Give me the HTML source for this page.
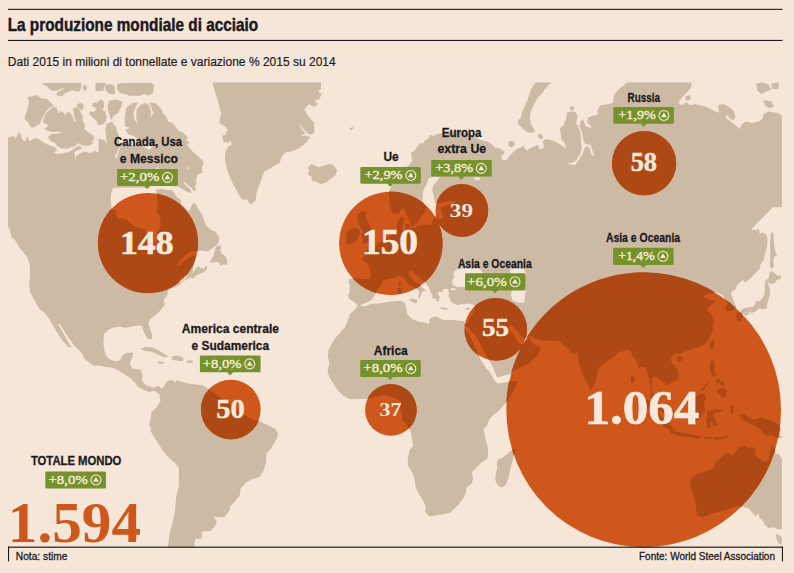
<!DOCTYPE html>
<html lang="it"><head><meta charset="utf-8"><title>La produzione mondiale di acciaio</title>
<style>html,body{margin:0;padding:0;background:#f5e6d8;}body{width:794px;height:573px;overflow:hidden;font-family:"Liberation Sans",sans-serif;}svg{display:block}.sb{font-family:"Liberation Sans",sans-serif;font-weight:bold;fill:#1c1a21;stroke:#1c1a21;stroke-width:.3px}.sr{font-family:"Liberation Sans",sans-serif;fill:#1c1a21}.nb{font-family:"Liberation Serif",serif;font-weight:bold;fill:#f6e9db}.nr{font-family:"Liberation Serif",serif;fill:#f6e9db;stroke:#f6e9db;stroke-width:.4px}</style></head><body>
<svg width="794" height="573" viewBox="0 0 794 573" style="isolation:isolate">
<rect width="794" height="573" fill="#f5e6d8"/>
<defs><clipPath id="mc"><rect x="8" y="82.6" width="773.9" height="464.4"/></clipPath>
<clipPath id="cc"><circle cx="148.0" cy="243.0" r="50.2"/><circle cx="390.8" cy="243.3" r="51.9"/><circle cx="461.8" cy="210.4" r="26.5"/><circle cx="644.1" cy="163.2" r="32.2"/><circle cx="495.7" cy="329.3" r="31.4"/><circle cx="230.9" cy="409.4" r="30.0"/><circle cx="390.8" cy="410.0" r="26.0"/><circle cx="643.65" cy="409.9" r="137.6"/></clipPath>
<path id="land" d="M95.5,82.9 95.5,91 103.4,91 104.1,87 106.3,83 106.3,82.9ZM83.2,90.6 86.7,90.6 86.7,85.4 83.2,85.4ZM111.9,84 105.5,84.7 104.7,87.7 106.2,91.3 109.7,94.1 114.8,94.1 114.8,86.9ZM117.3,89.8 120.9,93.4 125.1,94.1 129.3,95.8 140.5,95.8 143.3,94.1 148.9,95.5 153.2,92.6 153.9,85.5 151.7,82.9 122.3,82.9 117.3,84.1ZM62.9,95.8 64.3,93.4 68.5,92 72.6,90.2 76.1,91.6 79.7,91 81.4,87 81.1,82.9 42.4,82.9 42.4,83 43.2,85 46.7,86 48,87.8 51.6,90.6 55.8,91 58.7,90.2 61.5,88.5 64.4,88.8 61.4,90.3 57.1,92.2 56.4,94.7 59.3,96.6ZM80.3,102.9 77.3,104.3 76.9,106.6 78.8,108.7 81.7,110.2 83.9,107.7 83.2,104.3ZM107.5,107.2 108.9,113.5 111.1,120 111.2,120 114.1,115 117.6,113.6 121.1,107.3 122.5,101.5 115.4,99.4 109,100.8 108.2,103ZM54,105.9 54,105.8 46.8,98.7 41.9,98.7 36.6,94.9 27.7,97.3 28.9,102.3 27.8,107.9 25,116.5 24.7,119.1 28.5,122.7 30.9,127.6 33.5,127.6 39.9,124.1 42,118.5 44.8,113.6 49,108ZM100.5,125.5 101.8,124.6 105.7,122 105.9,120.9 106.2,120.5 106.1,118.9 106.4,116.3 105.8,114.7 105.5,112 102.8,110 104.1,105.8 103.4,100.8 100.5,99.4 97.6,102.2 92.7,102.9 92.2,105.9 94.8,107.3 96.1,110 93.5,111.9 89.9,111.2 89.2,113.5 92,117.1 96.2,120.6 97.6,124.1 98.5,124.5 98.5,124.8 99.1,124.8ZM48,137.2 50.1,140.8 55,142.9 57.8,146.4 61.4,148.5 68.4,148.5 71.2,146.9 75.5,145.7 77.5,143 79.5,144.3 83.7,145.5 89.4,145.8 93,143.6 91.7,140.2 94,140.2 93.7,135.8 89.4,132.9 83.9,128.8 85.3,126.1 83.2,121.8 82.5,116.3 79.7,109.9 76.1,107 73.1,108.5 73.8,115.6 75.9,120.5 74.7,122.2 73,117.6 71.3,114.1 68.1,111.2 68.1,111.2 65.6,115.3 63.6,112.7 60.2,110.8 58.7,113.8 57.6,110 55.9,107.1 51.9,107.8 45.9,113.4 43.1,119.8 43.8,122.7 47.4,124.8 49.2,125.4 44.4,128.8 44.4,128.9 48.1,131.1 53,132.1 58.6,131.5 62.3,132.4 58.6,133.6 50.9,134.3ZM353.5,128.2 352.6,126.7 349.8,128.6 350.7,130.4 350.7,130.4ZM246.9,199.2 250.7,204.8 250.7,204.8 255.5,200.4 256.5,194 258,187.7 260.5,182.6 262.3,176.3 264.8,171.3 269.8,168.8 273.6,166.3 280,162.4 281.3,157.3 285,152.4 292.6,151.1 298.9,148.5 305.3,143.5 310.5,137 310.5,136.9 305.2,135.6 299.7,136.7 305.4,133.3 305.4,133.2 301.5,129.3 299.4,122.9 303.8,129.5 308.9,134.7 314.2,133.3 314.2,123 307.8,115.4 304.1,109.2 309,104.3 314.1,106.8 318.1,104.1 318.1,104.1 314.3,100.4 319.2,99.2 321.8,93.9 318.1,91.4 321,89 321,81.2 212.1,81.2 212.1,81.2 215.2,92.8 217.7,100.4 219.7,108 221.5,114.2 219.7,118 219.7,123.2 224.1,125.8 227.8,129.4 225.3,133.2 226.2,134.5 222.2,135.7 223.3,141.4 228,143 230.5,140.3 231.6,144.6 227.9,147 225.8,150.9 224.8,158.5 226.6,167.4 229.1,175.1 232.9,183.9 238,192.8 241.8,199.7ZM319.1,167.2 315.4,166 311.5,163.9 307.5,167.4 309.3,170.7 307.5,174.3 311.4,176.4 311.9,181 316,181.5 320.4,184 325.5,182.7 335.7,175.1 337,169.9 333.1,164.7 328.7,164 324.1,165.5ZM227.7,261.9 225.5,256.2 222,254.1 220,250 221.4,247.2 219.9,245 216.2,246.4 214.8,250.7 213.4,255.6 211.3,259.7 209.1,262.7 209.2,262.8 213.6,262 217.7,262 220.4,263.4 219.6,265.9 219.7,266 223.3,264.2 226.2,264.9ZM120.8,145.5 116.6,158.2 116.8,158.8 114.8,156.8 119.7,147 119,135.8 117.6,133 116.2,127.4 111.9,121.7 106.9,123.2 105.4,128.8 106.1,138.7 107.5,144.2 104.3,139.9 98.5,138.4 98.5,138.5 98.5,152.4 94.9,150.7 89.9,153.3 84.8,151.2 79.7,153.3 76.3,155.9 75.1,161.8 75.2,156.1 74.2,152 78.2,149.9 81.9,148.5 81.9,148.5 80.3,146.1 76,146.9 72.5,149.7 69.7,151.7 65.6,152.4 61.4,153.8 55.9,153.8 54,152.6 57.5,149.8 54.5,146.9 46.1,144.1 37.7,138.5 33.4,138.5 30,141.2 28.7,139.9 27.3,136.3 27.2,136.3 25.1,141.2 22.5,139.9 21.1,135.1 18.1,132.1 18,132.1 17.3,135.8 15.4,138.4 14,135.9 6.8,137.8 6.9,138.7 6.9,225 10,230.1 11.3,236.5 15.1,240.3 18.9,246.6 23.9,252.9 27.7,258 29.7,265.5 30.2,275.6 29,284.5 30.2,292.1 34,299.8 39.1,308.6 44.2,312.5 49.2,318.8 52.8,325.3 57.3,332.7 62.4,340.3 68.5,347.2 71.6,347.4 71.6,347.4 66.7,339.4 62.4,331.8 58.4,324.8 59.9,323.9 64.2,330.9 68.7,338 73.8,345.1 78.4,349.2 82.2,354.2 84.7,359.3 93.6,365.7 100,365.5 105,366.7 111.4,367.5 117.7,370 124,374.3 130.3,378.1 135.3,383.1 137.9,387 143,389.5 149.4,392.1 154.4,390.8 159.4,394.5 160.6,400.7 156.8,407 151.8,412.1 150.5,418.5 149.2,424.8 151.6,430.8 149.9,429.8 149.8,429.9 156.2,440.2 162.5,450.2 170,459.1 175.1,462.9 178.8,467.8 178.8,486.7 176.3,495.5 175,510.6 172.5,523.2 170,530.7 168.7,540.8 167.5,551.1 167.5,551.1 195,551.1 194.2,543.4 195.5,539 201.8,538.5 201.8,531.4 210.5,530.9 214.4,527.1 216.9,521.9 213.3,515.9 216.7,517.1 224.4,517.1 229.5,510.7 230.7,505.6 234.5,501.9 239.6,495.6 240.8,488 247.1,481.8 252.1,479.3 259.7,476.7 263.5,470.4 266,462.8 266.5,452.8 268.5,451.5 272.3,446.4 276.1,440.1 278.1,433.6 274.8,428.5 268.4,425.4 259.5,421.4 252,419.6 245.6,415.8 238.1,410.8 229.2,403.2 219.1,396.8 208.9,389.2 205.1,386.7 201.3,384.9 193.7,384.2 187.4,383.4 181.1,381.6 175.8,380.3 175.3,383.2 172.2,379.8 167,381.6 164.4,385.5 162,389.1 160.9,388.1 160.9,388 160.9,388 160.7,387.9 160.7,387.9 157.7,385.4 154.4,387.9 150.7,386.7 145.7,384.9 141.9,380.5 142.7,375.4 140.6,369.7 131.8,368.2 130,364 131,359.4 132.3,358 133.1,352.7 133.1,352.7 126.5,352.7 122.7,355.3 120.1,360.3 115.2,361.6 109,359.1 105.2,354.1 103.4,344 103.9,333.9 107.7,330.2 112.7,327.7 119,326.4 125.3,327.7 131.7,326.4 139.2,325.2 142.2,326.4 143.7,331.4 147.2,338.3 151.5,339.6 151.5,339.6 152.3,335.1 150,328.8 148.3,322.5 150.7,318.8 157.1,313.7 160.9,309.9 164.7,304.8 163.5,299.7 167.3,295.8 167.2,295.6 165.5,296.9 166.9,295.5 168.3,289.9 179.4,285.1 185,280.2 190.8,277.4 192.6,278.9 195.5,276 198.9,273.9 203.1,272.5 206.7,269.7 207.4,266.7 205.8,265.9 203.7,268.7 200.4,268 198.2,265.9 196.7,267.4 194.6,270.2 192.2,274.3 193.4,267.5 194.8,261.9 196.3,255.1 192.2,255.8 187.4,258.5 182.4,262.7 179.1,265.8 176.5,265.4 181.8,258.5 187.4,253.5 191.9,251 197.2,250.7 197.4,252.1 198.9,250.6 204.5,250.9 208,251.6 211.5,248.8 215.7,245.9 218.6,242.4 219.3,237.4 215.7,231.7 211.5,230.3 206,225.5 203.9,220 203.5,218.7 202,214.5 199.3,210.3 196.7,206.1 194.5,202.3 194.5,202.3 191.8,205 188.7,211.7 185.2,208 181.3,204.2 180.5,199.3 177.8,197.7 175.3,195.6 173.7,191.9 171,189.8 166.8,190.3 161.5,188.7 157.3,189.8 155.4,189.2 157.1,194.8 157.8,199 157.5,207.3 156.4,211.5 160.3,217.1 160.6,225.5 157.1,232.5 156.4,243.6 154.3,242.2 153.6,233.2 145.9,233.2 145.3,229 138.3,228.3 134.1,226.2 128.5,221.3 122.9,218.5 117.3,218.5 115.9,210.8 111.8,209.4 110.6,201.8 111.1,193.4 113.1,187.8 151.2,187.8 142,184.8 135.2,177.8 153.1,175.1 157.4,166.5 159.9,171.5 170.4,186.2 177.8,186.2 179.8,187.8 183,189.3 186.6,191.4 190.4,193 191.6,192.4 190,189.1 186.3,186 183.2,182.9 184.1,182.1 187.7,185.1 191.3,187.8 193.4,190.4 195.1,191.5 195.2,191.5 195.8,189.2 194.7,187.1 196.3,184 196.3,181.8 195.7,181.4 197.7,174.4 202.3,172.6 201.7,168.3 202.5,165.4 203.3,163.6 203.2,163.4 203.6,162.5 202.5,160.3 201.5,159.7 201.5,159.7 195.1,153.4 194.1,152.9 193.6,152.5 193.6,152.5 193.6,152.4 189.5,148.3 187.2,144.9 188.1,143.6 189.6,142.9 189.6,142.8 186.1,140 188.1,137.2 185.2,135 182.4,132.2 178.3,130.8 176.2,127.4 172.7,123.1 168.5,121.8 165.7,116.2 162.3,112.7 161.6,109.2 155.9,103.6 149.4,102.1 149.4,102.2 150.4,105.2 152.2,110.1 153.6,113.5 151.8,115.5 150.5,118.2 151.1,112.1 149,105 145.4,102.9 140.4,105 136.4,110 136.4,117.7 137.4,124 134.3,119 133.4,113.5 135.7,107.3 137.9,102.2 137.8,102.2 132,102.9 126.4,107.8 124.7,116.3 125,126.2 130.2,128.1 125.6,129.5 125.6,129.5 127.8,133.9 133.4,136 141.8,141.6 152.8,146 149.5,150.2 141.9,145.5ZM188.6,169.9 186.9,168.2 188.3,165.9 188.6,166ZM184.9,275.9 187.7,275.2 185.6,278.7 181.4,282.2 177.9,282.2 180.7,278ZM145.5,351 151.9,351.7 158.2,354.8 164.5,357.3 168.6,356.8 168.6,356.6 164.6,354 158.3,350.2 151.9,347.6 145.5,346.9 140.3,349 140.3,349.1ZM172,359.8 175.9,360.6 182.4,361.4 183.7,357.8 177.2,355.2 172,356.5ZM187.2,363.1 192.6,363.1 192.6,360.5 187.2,360.5ZM158.1,363.6 163.4,363.9 163.4,361.8 158.1,361.6ZM686.3,101 690.9,99.1 689.8,95 685,96.4ZM535.5,131.2 535.5,131.2 533.6,128.4 531,124 529.8,117.9 530.5,112.7 532.7,107.4 538,96.9 542.4,93.3 544.2,89.8 547.7,86.3 552.2,81.7 552.2,81.6 536.1,81.6 530.7,89.6 528.9,95.8 527.2,101.1 524.5,106.4 521.9,112.6 521,117.8 517.8,120.5 518.4,124.2 521,126.8 523.7,129.5 527.3,132.2 531.7,132.7ZM573.3,110.5 574.6,107.8 572,105.9 569.5,107.3 570.4,110.1ZM543.4,137.3 540.6,133.6 537.7,134.6 538.7,138 541.5,139.3ZM510.5,140.7 508.3,142.5 508.3,145.3 510.2,147.2 513.3,146.8 514.8,144.4 513.9,141.6ZM410.3,228.2 409.4,223.2 404.9,224.1 406.1,229.6ZM371.3,228 369.4,224.1 367,220.2 365.5,216.3 366.6,212 363,211 357.3,213.9 357.3,218.7 358.9,223.4 360.5,228.2 363.6,232.1 361.2,236 363.6,239.1 362.8,244 362.9,244 367.7,242.4 372.5,240.8 374.9,237.6 373.3,232.8ZM347.1,237.5 345.5,240.7 347.2,244.8 352.1,243.2 356.8,240 359.2,236 360,231.2 356.8,228 351.9,228.8 346.4,232.7 345.5,235.2ZM400.5,280.8 398.8,281.4 398.8,284.6 399.9,286.3 400,286.3 401.1,284.6 400.6,280.8ZM397.7,288.2 398.3,293.6 400.5,294.1 401.8,291.4 401.1,287.6ZM758.5,121.6 752.2,122.9 745.9,121.6 742,124.2 739.5,129.1 735.9,125.5 730.8,121.7 725.8,117.9 727,114.5 729.3,118.1 732.8,120.7 735.9,116.7 733.4,110.3 728.3,106.5 723.1,103.9 717.9,105.2 719.1,112.7 715.6,111.5 705.4,106.4 695.3,103.9 690.2,105.2 686.4,102.6 681.4,105.1 678.3,102.8 682.7,96.6 687.8,91.5 691.6,86.4 691.6,81.1 628.1,81.1 624.3,85 617.9,90 614.1,95.1 612.9,102.7 609.2,103.9 600.2,105.2 597.6,110.3 597.7,114.3 596.1,115.1 591.6,116 588,117.8 587.1,122.4 589.8,125.1 592.2,128.2 590,127.5 586.5,126.6 584.8,124 583,118.9 582.9,118.9 580.4,121.7 579.5,126.2 582.2,132.9 583.1,139.7 585.4,144 590.2,144.5 591.9,148.8 594.1,156 591.8,155.4 590.1,149.6 587.3,145.4 587.3,145.4 584.5,148.4 582.7,153.7 579.2,159.6 574.9,164.9 569.2,164.2 567.4,162.2 571.4,163.1 575.9,160.4 580.4,154.1 581.6,147.9 580.9,140 580.4,132.9 578.1,125.8 576,123.2 577.7,117 575.9,112.5 571.4,111.2 566.9,112.5 566,119.6 563.4,124.9 559.8,128.5 560.7,132.9 561.6,140 565.1,143.6 565.9,148.4 562.7,146 558.3,143.4 552.9,140.7 545.8,138.9 543,140.8 543.9,147.8 539.7,149.5 538,145.1 530.8,147.8 527.3,150.4 524.8,148.7 523,145 522.9,145 521.1,147.8 517.6,148.6 514,151.3 509.6,155.7 507,160.1 502.7,160.1 501,155.9 503.6,154.2 504.6,151.4 500,148.6 495.6,147.8 487.7,141.6 480.1,139.9 470.1,133.9 455,130.8 442.4,133.3 436.8,134 433.4,136.1 429.8,134.7 428.4,138.3 424.9,140.4 422.8,143.8 420.1,143.1 417.2,146.7 414.4,150.8 410.9,153 412.3,160.7 409.5,164.8 403.9,168.9 397.9,177.9 391.9,185.9 388.7,192 389.2,201.4 390.3,207.7 392.7,213.3 397.6,214.1 401.6,209.4 403.8,207.2 405.2,211.7 407.6,217.2 410,221.9 411.5,226.9 412.8,228.1 408.5,230.3 403.9,231.4 401.6,229.6 403.7,223.4 404,217.8 401.4,216.9 397.4,220.2 397.1,225 397.4,231.1 392.7,232.7 388.8,236.6 384.1,239.8 380.2,242.1 377,244.5 374.7,247.6 370.8,248.4 367.6,250 367.2,254 363.7,257.1 362,259 363.7,261.5 366.8,262.3 369.1,267 370.7,272.4 370.2,279 361.4,279 355.1,278.2 349.5,279 348.4,282.6 350.3,285 349.5,289.7 349.5,292.8 347.9,296 349.5,299.2 353.5,301.6 356.6,303.9 357.7,305.4 354.1,310.3 350.3,314.1 347.7,320.5 345.2,326.8 340.1,333.1 335.1,338.1 331.3,344.5 328.7,349.6 327.9,356 329.5,363.5 327.4,371.1 330,378.8 333.8,383.9 337.6,390.2 342.7,395.3 349.1,399.1 365.6,399.1 374.5,397.1 380.8,395.3 388.3,396.1 395.9,397.9 400.9,401.6 400.4,409.1 402.1,416.7 401.9,419 408.2,426.7 410.7,431.7 412,439.3 413.3,445.5 409.5,450.6 407.7,459.5 408.2,465.9 412,472.2 414.5,478.5 415.8,487.4 419.6,495 423.4,501.3 425.9,507.6 424.6,511.4 429.8,516.6 436.2,515.3 443.8,514.1 450.2,512.8 454,509 459.1,503.9 462.9,498.8 465.5,493.7 466.7,487.4 471.8,483.6 473.1,478.5 471.8,472.2 481.9,462.1 487,459.6 488.3,453.2 487.5,445.5 485.7,440.5 484.4,432.9 483.2,429.2 487,425.4 489.5,419.1 494.5,414 499.6,410.2 504.7,403.9 506.8,402.1 510.8,395.8 513.9,390.3 516.3,384.8 517.3,381 510.6,381.1 503.6,382.7 497.3,383.5 493.8,379.6 490.2,373.1 490.3,373.2 490.1,373 489.4,371.7 488.3,370.8 486.4,368.5 483.3,363.8 480.1,359.1 479.3,356 477,351.3 473.8,345 471.5,338.7 468.4,334 464.4,329.3 464.7,326.4 469.4,327.4 471,331.1 474.2,333.7 477.3,338.4 480.4,343.9 483,349.4 485.9,354.1 488.3,359.1 491.1,363.8 493.5,368.5 495.8,374.5 497.6,377.4 503.6,375.8 509.8,374.2 510.8,374 510.8,373.8 512.3,371.5 517.8,368.4 524,366.1 528.8,363.7 532.7,359.7 536.7,355.8 540.6,350.2 539,346.2 534.3,344.6 533.9,344.2 533.5,344.2 533.4,343.7 530.4,340.7 531.7,337.5 531.6,337.4 528.8,337.4 525.7,341.5 522.5,344.2 519.4,343.4 517,340.3 514.7,336.3 511.5,332.4 509.2,329.3 508.4,326.9 510.8,324.6 513.9,326.9 517,330.8 519.4,333.2 521.8,337.1 524.9,338.7 529.5,336.3 530.4,335.7 535,338.8 542.9,340.4 552.4,340.4 559.4,341.2 559.9,341.7 564,345.8 569,348.8 571,352.9 575.3,354 577.1,351.2 578.1,358.9 580.1,367 583.2,375.1 587.2,383.2 590.3,390.5 590.4,390.5 593.5,385.3 596.6,379.2 597.6,371.1 599.6,367.1 603.6,364 608.7,360 613.8,357 617.8,352.9 622.8,350.9 627.8,349.9 630.8,350.9 631.8,354.9 634.8,359 637.8,363 638.5,368.2 638.5,368.2 641.1,367.1 644,366.7 647,370.1 648.6,377.1 650,385.2 651,390.3 650,396.7 654.1,402.9 658.2,409 662.4,413.1 664.6,410.9 661.5,406.7 657.4,400.7 653.4,393.6 651.4,388.6 652.3,377.2 655.2,376.2 659.2,379.2 667.3,385.4 670.5,383.3 673.5,381.3 677.6,379.2 678.6,374 677.6,369.9 674.6,365.9 671.5,361.8 670.5,358.9 673.5,354.9 676.5,353 679.5,354.6 681.6,352.9 686.6,350.9 691.7,348.9 696.3,348.1 700,346.9 703.9,344.5 707.9,340.6 710.3,335.8 711.8,332.7 713.4,328.7 712.6,324.8 714.2,320.8 712.6,316.9 711,312.9 707.9,311.3 707.5,309.1 709.4,306.8 711.8,304.5 715.1,301.2 715,301.1 711,300.3 707.8,298.7 704.7,297.9 703.3,295.8 706.2,294.3 709.3,293.5 711.7,294.3 714.1,291.9 717.9,292.7 721,294.3 723.4,296.6 725.7,300.5 728,303.3 726.5,305.8 724.9,309.9 727.4,311.3 731.4,310.8 734.6,309.2 736.2,306.7 734.6,303.5 732.3,297.3 732.3,297.3 730.7,292.5 735.4,289.4 737,285.5 742.3,280.1 745.5,282.4 749.5,279.2 759.7,269 760.5,264.2 763.7,260.3 764.5,255.6 766.8,247.7 767.6,241.4 766.8,235 762.7,232.6 759.7,234.1 758.9,228.7 758.9,228.6 755.6,230.3 751.2,229.5 751.3,229.3 772.7,207.2 782.6,207.2 782.6,140 782,115.3 776.3,112.8 768.7,111.5 763.5,114.1 762.2,119.1ZM433.4,185.1 432,190 433.6,195 434.7,200.9 436,203.5 440.9,202.5 447.2,201.5 452.5,200.9 455.6,202.2 453.5,204.3 449.3,204.7 445.1,205.8 441.5,207.4 440.4,210.4 442.5,213.5 443,216.6 440.9,219.8 438.3,219 436.8,215.8 434.5,216 433.7,219 432.1,221.8 430.5,225 424.2,224.4 418,226.3 414,228 411.7,226.9 415.6,224.2 418,221.8 420.3,217.1 424.2,213.2 425.8,207.7 424.2,203.8 422.7,201.4 422.7,197 422.9,191.4 425,187.2 427.1,183 428.5,178.2 434.8,176.8 439.7,177.5 436.9,181.6ZM450.9,290.1 450.4,288.3 455.1,288.3 455.7,289.9ZM372.4,299.1 374.8,295.2 377.1,290.5 381.8,283.4 383.4,279.9 388.1,279.2 392.8,278.4 397.5,276 397.9,275.7 403.6,276.8 404.7,279.4 406.8,282 409.9,284.6 412.5,286.7 415.1,287.7 416.2,288.8 418.3,290.4 419.3,292.5 418.8,294.6 418.5,296.6 418.1,299.6 419.6,297.9 421,295.6 421.4,293.3 422.7,291.4 424,290.6 425.8,291.6 425.1,289.8 423,288.1 421.4,286.7 420.4,285.7 420.4,283.9 416.2,282.5 413.6,280.9 410.9,277.3 408.6,274.7 408.8,271 412.5,270.5 415.1,273.6 418.3,276.2 421.4,279.4 424,281.5 426.6,284.6 429.3,288.3 430.3,291.5 431.9,294.6 432.9,296.2 431.4,297.2 432.9,298.8 434.5,297.7 436.3,300.4 436.8,301.4 439.4,300.9 438.4,298.8 440.5,297.7 438.9,295.7 437.9,292.5 439.9,291.5 442,292.5 443.6,289.4 445.7,288.8 448.3,289.1 448.3,290.4 449.4,293.6 448.3,296.2 449.9,298.3 450.9,301.4 452.5,303 455.7,304.6 458.8,305.1 461.4,303.5 463.5,304.6 466.6,303.5 470.3,304 472.9,304.6 475,305.6 474.6,306.5 473.8,312 470.7,316.7 468.4,321.4 466,323.8 463.6,322.7 465.6,320.8 461.4,321.3 456.2,320.3 450.9,319.7 446.8,320.3 442.6,319.7 439.4,318.2 436.3,316.6 433.1,317.1 430,318.7 428.9,324.3 425.1,322.5 418.7,321.8 412.4,319.2 407.3,314.2 406.1,307.8 404.8,302.8 401,300.8 390.9,301.5 380.8,303.3 370.6,304.1 364.3,306.6 360.2,305.8 361.4,304.6 365.3,303 369.3,301.5ZM478.1,180.5 474.6,179.6 473.2,177.5 478.8,177.2 480.8,179.1ZM465.3,268.3 471.6,268.7 479.5,268.3 481.8,271.4 485,277.7 486.5,283.2 483.4,286.3 477.1,287.9 469.3,287.1 465.3,287.1 456.7,287.1 452.8,284.8 452,280.8 454.3,276.9 453.6,273.8 455.1,270.6 457.5,269.1ZM524.2,280.8 525.8,290.3 525,296.5 524.2,302.8 518,302.5 512.5,300.5 510.9,295 511.7,291 514.8,284 514,277.7 510.9,273.8 509.3,269.8 518,268.3 524.2,269.1 526.1,273.8ZM412.5,298.4 409.2,299.2 409.2,299.2 410.9,301.4 413.5,302.5 416.2,303.6 417.1,301.9 417.6,300.3ZM443.6,307.4 440.4,307.6 440.4,308.8 443.1,309.4 447.3,309.7 447.9,308.5 447.9,308.5ZM464.9,309.2 464.9,309.3 466.6,310.4 469.9,308.8 470.4,307.1 470.4,307 467.7,308.1ZM682.9,359.9 681.6,356.7 676.7,357.3 676.5,360.6 679.5,362.1ZM633.4,374.9 631.1,376 630.7,381.2 632.5,383.8 632.6,383.8 634.5,380.1 633.4,374.9ZM647.3,399.6 643,397.5 642.9,397.6 644,402.8 648.1,409 654.1,416 660.2,423.1 666.3,428.2 671.4,430.9 674.7,430.2 674.7,430.2 671.6,426 665.5,420.9 659.4,413.8ZM676.5,435.3 684.6,437 692.7,437.8 701,438.4 701,436.1 694.8,435 686.7,433.4 678.6,432 670.3,431 670.3,431 670.3,433.3ZM514.8,449.2 510.8,450.5 507,454.3 502,458.1 498.1,459.4 496.8,463.3 497.3,468.3 495.5,474.7 495.5,481.1 498.1,485.7 502,487.5 505.9,484.9 508.5,477.3 510.3,469.7 512.3,462.1 514.3,454.5 514.8,449.2ZM779,81.9 778.9,81.8 771,83.7 772.4,89 778.4,89ZM762.4,81.9 755.9,83.7 757.2,90.2 761.1,94.1 771.4,88.9 771.4,88.9 768.8,84.9ZM763.5,100.1 763.4,100.1 764.8,105.4 768.7,108 773.9,106.7 774,106.7 771.3,101.4ZM771.2,232.6 770,241.4 770.4,250.8 770,258.7 770,267.4 772.2,268.3 773.9,266.6 773.1,260.3 774.6,256.5 777.1,255.6 774.7,249.2 773.9,241.4 773.4,232.6ZM756.4,300.2 755.5,303.5 753.2,306.6 749.4,307.3 744.6,308.1 741.4,309.7 740.6,313 740,312.5 736.7,313.6 735.4,315.3 736.7,317.7 737.5,321.3 740,321.8 741.7,318.5 742.5,314.5 740.8,313.2 743.1,313.9 746.3,312.3 749.4,311.6 752.3,314 752.3,314 752.7,312.3 755.7,311.5 758.9,308.4 762.7,309.2 766.8,308.4 767.6,302 769.6,295.7 770,289.4 768.4,283.8 767.2,283.1 768.2,282.4 771.4,284 774.6,283.2 777,280 780.9,278.4 781.8,275.5 781.7,275.5 778.5,275.8 774.6,273.5 772.2,271.1 769.7,271.9 768.9,277.5 766.6,279.8 764.1,283.1 764.1,283.1 765.3,283.7 764.6,285.5 764.9,289.4 764.2,294.9 761.8,298.8 758.8,301.8 756.4,300.2ZM748.7,312 743.7,313.7 743.7,313.7 745.4,316 749.6,313.8ZM713.4,347.6 714.7,343.6 713.4,340.3 710.8,341.1 710,343.6 709.7,347.6 711.3,350.1 711.4,350.1ZM714,377.7 714,377.7 716.2,375.5 714.2,372.4 714.8,366.3 713.5,360.1 713.5,360.1 710.4,361.2 709.8,367.3 710.8,373.5ZM724.3,385.7 723.2,380.3 723.2,380.3 719.9,381.4 719.2,378.3 715.8,379.4 716.9,383.7 720.2,382.7 721,386.4ZM701.9,391.7 708.5,383.3 707.3,382.3 700.6,390.7ZM723.1,387.4 717.9,389.5 716.9,393.1 720,394.8 723.1,397.9 726.3,395.8 727.3,390.6ZM694.7,398.6 691.6,400.7 689.6,405.8 688.5,411.9 689.6,418 692.7,421.2 697.9,420.1 702,415 705,409.9 704,402.8 706.1,397.7 704,393.5 698.7,394.5ZM731.1,409.9 730.6,413.4 733,414.1 733.8,409.9 733,405 730,405.7ZM721.2,412 722.3,409.8 722.3,409.7 715,409.7 707.8,410.8 706.8,414.9 706.4,421 707.2,428.3 710.7,428.3 710.7,428.2 710.1,423.1 711.9,421.3 713.9,426.3 717.2,425.2 715.1,418.9 712.2,415 715.1,412.7ZM781,429.1 778.9,425 771.8,420.9 765.7,418.8 759.5,417.8 755.5,419.8 751.5,418.8 747.5,416.8 744.4,413.8 739.1,414.8 739.1,414.9 742.3,420.1 746.3,421.2 750.4,424.2 755.4,426.2 759.5,429.2 763.5,433.3 767.6,436.4 771.7,435.3 775.7,437.4 783,438.4 783.1,438.3 780,435.1ZM720.1,437.1 713.9,437.5 713.9,439.4 721.1,439.4 729,436.9 729,436.9 728.3,435.4ZM703.7,438.6 711.1,439 711.1,437.1 703.7,436.7ZM737.3,506 743.3,507 747.4,508 750.4,510 753.4,514 755.5,516.2 758.5,513.2 759.4,518.1 762.5,520.1 764.5,524.1 768.6,528.3 773.7,527.2 777.8,529.3 783,529.3 783,460.2 778.9,454 775.9,454 774.9,449.1 771.7,444.8 771.6,444.9 770,452.1 768.5,460.2 764.6,462.1 759.7,459.1 754.7,455.1 755.7,451.1 753.6,446.9 748.5,447.9 744.4,445.9 739.2,447 736.2,451 732.2,455 728.2,453 725.1,454 721,458.1 715.9,461.2 713.9,467.2 708.9,470.2 696.7,474.3 691.6,477.4 690.6,482.5 690.2,487.6 692.6,491.7 693.6,496.7 695.6,503.8 696.2,509.9 697.1,515.4 701.8,517.5 707,516.1 713,513.1 719.1,512 725.2,510 731.3,508ZM778.9,535.1 775.7,534 775.6,534 776.6,539.3 778.7,543.4 782.9,545.5 783,545.5 783,538.2Z" fill-rule="evenodd"/></defs>
<g clip-path="url(#mc)"><use href="#land" fill="#ccbaa5"/></g>
<g fill="#cf571b"><circle cx="148.0" cy="243.0" r="49.95"/><circle cx="390.8" cy="243.3" r="51.65"/><circle cx="461.8" cy="210.4" r="26.25"/><circle cx="644.1" cy="163.2" r="31.95"/><circle cx="495.7" cy="329.3" r="31.15"/><circle cx="230.9" cy="409.4" r="29.75"/><circle cx="390.8" cy="410.0" r="25.75"/><circle cx="643.65" cy="409.9" r="137.35"/></g>
<g clip-path="url(#cc)"><g clip-path="url(#mc)"><use href="#land" fill="#ae4814"/></g></g>
<rect x="8" y="8.8" width="774.5" height="1.1" fill="#1c1a21"/>
<rect x="8" y="39.9" width="774.5" height="1.1" fill="#1c1a21"/>
<text class="sb" x="7.73" y="30.78" font-size="18.19" textLength="250.42" lengthAdjust="spacingAndGlyphs" style="stroke-width:.45px">La produzione mondiale di acciaio</text>
<text class="sr" x="7.84" y="66.47" font-size="13.11" textLength="327.87" lengthAdjust="spacingAndGlyphs" style="stroke:#1c1a21;stroke-width:.2px">Dati 2015 in milioni di tonnellate e variazione % 2015 su 2014</text>
<rect x="8" y="546.6" width="775" height="1.2" fill="#1c1a21"/>
<rect x="8" y="546.6" width="1.1" height="14.8" fill="#1c1a21"/>
<rect x="781.9" y="546.6" width="1.1" height="14.8" fill="#1c1a21"/>
<text class="sr" x="15.78" y="560.2" font-size="11.0" textLength="51.7" lengthAdjust="spacingAndGlyphs" style="stroke:#1c1a21;stroke-width:.3px">Nota: stime</text>
<text class="sr" x="639.0" y="559.9" font-size="11.0" textLength="136.0" lengthAdjust="spacingAndGlyphs" style="stroke:#1c1a21;stroke-width:.3px">Fonte: World Steel Association</text>
<text class="sb" x="113.95" y="146.4" font-size="13.3" textLength="68.27" lengthAdjust="spacingAndGlyphs">Canada, Usa</text>
<text class="sb" x="119.81" y="162.6" font-size="13.3" textLength="58.08" lengthAdjust="spacingAndGlyphs">e Messico</text>
<text class="sb" x="383.38" y="161.2" font-size="13.3" textLength="15.28" lengthAdjust="spacingAndGlyphs">Ue</text>
<text class="sb" x="441.79" y="136.6" font-size="13.3" textLength="39.75" lengthAdjust="spacingAndGlyphs">Europa</text>
<text class="sb" x="437.4" y="153.2" font-size="13.3" textLength="48.85" lengthAdjust="spacingAndGlyphs">extra Ue</text>
<text class="sb" x="627.51" y="101.9" font-size="13.3" textLength="32.39" lengthAdjust="spacingAndGlyphs">Russia</text>
<text class="sb" x="457.89" y="267.7" font-size="13.3" textLength="73.86" lengthAdjust="spacingAndGlyphs">Asia e Oceania</text>
<text class="sb" x="605.89" y="241.7" font-size="13.3" textLength="74.26" lengthAdjust="spacingAndGlyphs">Asia e Oceania</text>
<text class="sb" x="181.84" y="333.1" font-size="13.3" textLength="97.12" lengthAdjust="spacingAndGlyphs">America centrale</text>
<text class="sb" x="191.62" y="349.5" font-size="13.3" textLength="77.5" lengthAdjust="spacingAndGlyphs">e Sudamerica</text>
<text class="sb" x="373.84" y="354.8" font-size="13.3" textLength="33.89" lengthAdjust="spacingAndGlyphs">Africa</text>
<text class="sb" x="30.89" y="464.7" font-size="13.3" textLength="90.44" lengthAdjust="spacingAndGlyphs">TOTALE MONDO</text>
<rect x="117.1" y="168.9" width="60.75" height="17.00" rx="1.3" fill="#76922b"/>
<path d="M143.9,185.6L150.5,185.6L147.2,189.1Z" fill="#76922b"/>
<text class="nr" x="119.96" y="181.25" font-size="13.3" textLength="39.4" lengthAdjust="spacingAndGlyphs">+2,0%</text>
<circle cx="167.50" cy="177.35" r="5" fill="none" stroke="#f6e9db" stroke-width="1.1"/>
<path d="M164.60,179.15L170.40,179.15L167.50,174.45Z" fill="#f6e9db"/>
<rect x="360.3" y="167.0" width="60.50" height="16.70" rx="1.3" fill="#76922b"/>
<path d="M387.0,183.4L393.6,183.4L390.3,186.7Z" fill="#76922b"/>
<text class="nr" x="364.48" y="179.35" font-size="13.3" textLength="38.15" lengthAdjust="spacingAndGlyphs">+2,9%</text>
<circle cx="410.80" cy="175.45" r="5" fill="none" stroke="#f6e9db" stroke-width="1.1"/>
<path d="M407.90,177.25L413.70,177.25L410.80,172.55Z" fill="#f6e9db"/>
<rect x="431.2" y="159.9" width="60.60" height="16.60" rx="1.3" fill="#76922b"/>
<path d="M458.0,176.2L464.6,176.2L461.3,179.7Z" fill="#76922b"/>
<text class="nr" x="435.29" y="172.25" font-size="13.3" textLength="37.84" lengthAdjust="spacingAndGlyphs">+3,8%</text>
<circle cx="481.30" cy="168.35" r="5" fill="none" stroke="#f6e9db" stroke-width="1.1"/>
<path d="M478.40,170.15L484.20,170.15L481.30,165.45Z" fill="#f6e9db"/>
<rect x="613.3" y="107.0" width="60.60" height="16.80" rx="1.3" fill="#76922b"/>
<path d="M640.3,123.5L646.9,123.5L643.6,126.8Z" fill="#76922b"/>
<text class="nr" x="618.39" y="119.35" font-size="13.3" textLength="37.33" lengthAdjust="spacingAndGlyphs">+1,9%</text>
<circle cx="663.90" cy="115.45" r="5" fill="none" stroke="#f6e9db" stroke-width="1.1"/>
<path d="M661.00,117.25L666.80,117.25L663.90,112.55Z" fill="#f6e9db"/>
<rect x="465.1" y="273.3" width="60.30" height="17.10" rx="1.3" fill="#76922b"/>
<path d="M491.8,290.1L498.4,290.1L495.1,293.2Z" fill="#76922b"/>
<text class="nr" x="467.05" y="285.65" font-size="13.3" textLength="39.81" lengthAdjust="spacingAndGlyphs">+6,0%</text>
<circle cx="515.00" cy="281.75" r="5" fill="none" stroke="#f6e9db" stroke-width="1.1"/>
<path d="M512.10,283.55L517.90,283.55L515.00,278.85Z" fill="#f6e9db"/>
<rect x="613.1" y="247.8" width="60.60" height="17.10" rx="1.3" fill="#76922b"/>
<path d="M640.1,264.6L646.7,264.6L643.4,268.0Z" fill="#76922b"/>
<text class="nr" x="618.21" y="260.15" font-size="13.3" textLength="36.5" lengthAdjust="spacingAndGlyphs">+1,4%</text>
<circle cx="662.90" cy="256.25" r="5" fill="none" stroke="#f6e9db" stroke-width="1.1"/>
<path d="M660.00,258.05L665.80,258.05L662.90,253.35Z" fill="#f6e9db"/>
<rect x="199.9" y="355.4" width="60.70" height="16.90" rx="1.3" fill="#76922b"/>
<path d="M226.8,372.0L233.4,372.0L230.1,375.5Z" fill="#76922b"/>
<text class="nr" x="202.87" y="367.75" font-size="13.3" textLength="38.67" lengthAdjust="spacingAndGlyphs">+8,0%</text>
<circle cx="249.70" cy="363.85" r="5" fill="none" stroke="#f6e9db" stroke-width="1.1"/>
<path d="M246.80,365.65L252.60,365.65L249.70,360.95Z" fill="#f6e9db"/>
<rect x="360.2" y="360.1" width="60.60" height="16.80" rx="1.3" fill="#76922b"/>
<path d="M386.9,376.6L393.5,376.6L390.2,379.9Z" fill="#76922b"/>
<text class="nr" x="363.36" y="372.45" font-size="13.3" textLength="39.29" lengthAdjust="spacingAndGlyphs">+8,0%</text>
<circle cx="410.80" cy="368.55" r="5" fill="none" stroke="#f6e9db" stroke-width="1.1"/>
<path d="M407.90,370.35L413.70,370.35L410.80,365.65Z" fill="#f6e9db"/>
<rect x="45.3" y="471.5" width="60.70" height="16.90" rx="1.3" fill="#76922b"/>
<text class="nr" x="48.51" y="483.85" font-size="13.3" textLength="39.29" lengthAdjust="spacingAndGlyphs">+8,0%</text>
<circle cx="95.95" cy="479.95" r="5" fill="none" stroke="#f6e9db" stroke-width="1.1"/>
<path d="M93.05,481.75L98.85,481.75L95.95,477.05Z" fill="#f6e9db"/>
<text class="nb" x="119.94" y="254.01" font-size="34.71" textLength="53.63" lengthAdjust="spacingAndGlyphs" style="stroke:#f6e9db;stroke-width:0.6px">148</text>
<text class="nb" x="362.01" y="254.2" font-size="35.15" textLength="55.98" lengthAdjust="spacingAndGlyphs" style="stroke:#f6e9db;stroke-width:0.6px">150</text>
<text class="nb" x="449.87" y="216.8" font-size="19.85" textLength="23.15" lengthAdjust="spacingAndGlyphs" style="stroke:#f6e9db;stroke-width:0.0px">39</text>
<text class="nb" x="630.67" y="171.44" font-size="26.79" textLength="26.4" lengthAdjust="spacingAndGlyphs" style="stroke:#f6e9db;stroke-width:0.45px">58</text>
<text class="nb" x="482.04" y="336.41" font-size="26.14" textLength="27.12" lengthAdjust="spacingAndGlyphs" style="stroke:#f6e9db;stroke-width:0.45px">55</text>
<text class="nb" x="216.28" y="417.64" font-size="26.79" textLength="28.53" lengthAdjust="spacingAndGlyphs" style="stroke:#f6e9db;stroke-width:0.45px">50</text>
<text class="nb" x="379.42" y="415.6" font-size="19.85" textLength="22.02" lengthAdjust="spacingAndGlyphs" style="stroke:#f6e9db;stroke-width:0.0px">37</text>
<text class="nb" x="584.41" y="423.74" font-size="47.79" textLength="115.01" lengthAdjust="spacingAndGlyphs" style="stroke:#f6e9db;stroke-width:0.6px">1.064</text>
<text class="nb" x="7.87" y="541.56" font-size="56.91" textLength="133.12" lengthAdjust="spacingAndGlyphs" style="fill:#cf571b">1.594</text>
</svg></body></html>
